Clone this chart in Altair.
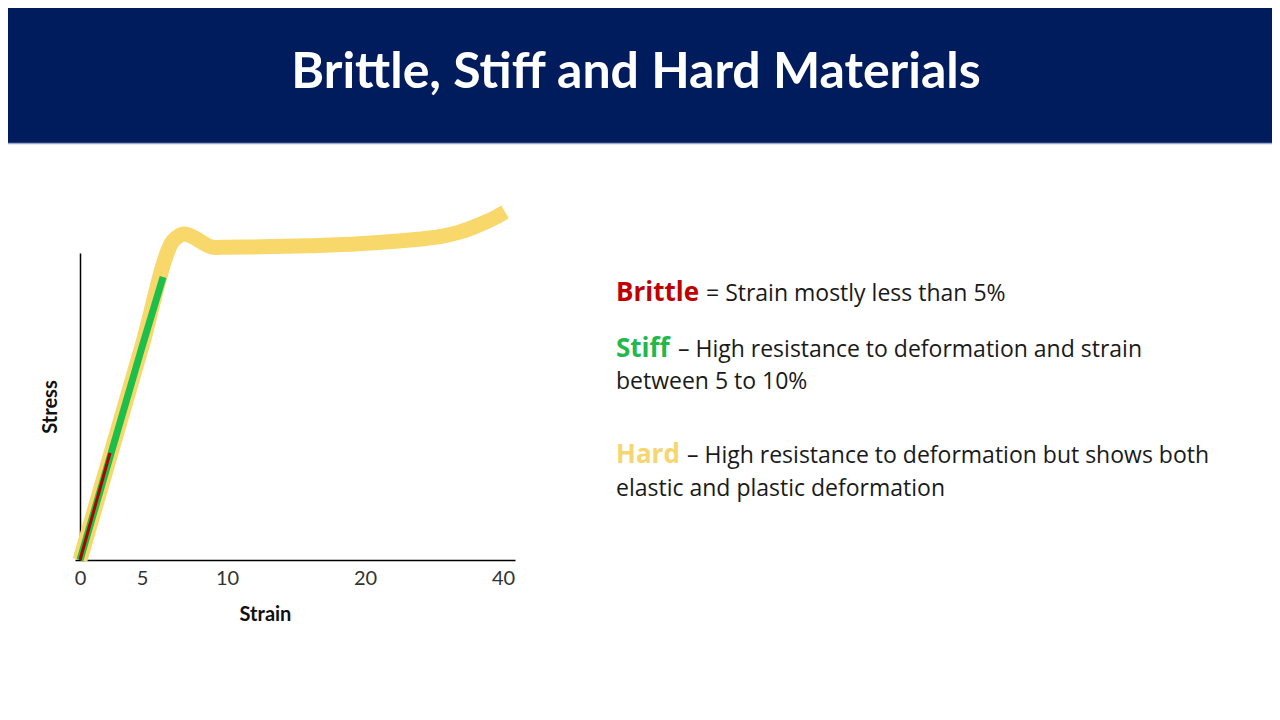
import altair as alt
import pandas as pd

# stress-strain curves (stress in arbitrary units, axis top = 100)
hard_strain = [0, 5, 6.82, 7.12, 7.47, 9.29, 10, 12.4, 16.0, 19.6, 24.4, 29.0, 31.45, 33.77, 36.23, 38.55, 40.29]
hard_stress = [0, 69.7, 103.9, 105.4, 106.2, 101.8, 101.9, 102.0, 102.4, 103.0, 103.8, 104.8, 105.6, 106.9, 108.9, 111.2, 113.4]
stiff_strain = [0, 5, 6.24]
stiff_stress = [0, 69.4, 92.2]
brittle_strain = [0, 2.42]
brittle_stress = [0, 34.9]
strain_ticks = [0, 5, 10, 20, 40]

title = "Brittle, Stiff and Hard Materials"
words = ["Brittle", "Stiff", "Hard"]
word_colors = ["#C00000", "#22B84C", "#F6D670"]
lines = [
    ["= Strain mostly less than 5%"],
    ["– High resistance to deformation and strain", "between 5 to 10%"],
    ["– High resistance to deformation but shows both", "elastic and plastic deformation"],
]

FONT = "Lato"
BODY_FONT = "Open Sans"
OX, OY = 75, 253  # page position of the plot area's top-left corner

# the slide's axis is not evenly spaced, so use a piecewise scale
xscale = alt.Scale(domain=[-0.4, 0, 5, 10, 20, 40, 41.7],
                   range=[0, 5, 67, 152, 290, 428, 440], nice=False, zero=False)
yscale = alt.Scale(domain=[0, 100], nice=False)


def curve(xs, ys, color, width, interp="linear"):
    df = pd.DataFrame({"Strain": xs, "Stress": ys})
    return alt.Chart(df).mark_line(color=color, strokeWidth=width, strokeCap="butt",
                                   strokeJoin="round", interpolate=interp).encode(
        x=alt.X("Strain:Q", scale=xscale),
        y=alt.Y("Stress:Q", scale=yscale),
        order=alt.Order("Strain:Q"),
    )


def label(txt, px, py, size, color, weight="normal", align="left", font=BODY_FONT):
    df = pd.DataFrame({"t": [txt]})
    return alt.Chart(df).mark_text(font=font, fontSize=size, fontWeight=weight, color=color,
                                   align=align, baseline="alphabetic").encode(
        text="t:N", x=alt.value(px - OX), y=alt.value(py - OY))


dummy = pd.DataFrame({"a": [0]})
header = alt.Chart(dummy).mark_rect(color="#001C5C").encode(
    x=alt.value(8 - OX), x2=alt.value(1276 - OX),
    y=alt.value(8 - OY), y2=alt.value(143 - OY))
header_line = alt.Chart(dummy).mark_rule(color="#9AA8CC", strokeWidth=1.5).encode(
    x=alt.value(8 - OX), x2=alt.value(1276 - OX), y=alt.value(143.5 - OY))

axes = alt.Chart(dummy).mark_point(opacity=0).encode(
    x=alt.X("a:Q", scale=xscale, title="Strain",
            axis=alt.Axis(values=strain_ticks, ticks=False, tickSize=0, grid=False,
                          domainColor="black", domainWidth=1.5, labelFont=FONT,
                          labelFontSize=20, labelColor="#333333", labelPadding=8,
                          labelFlush=False, labelOverlap=False, titleFont=FONT,
                          titleFontSize=20, titleFontWeight="bold", titleColor="#111111",
                          titlePadding=16, titleX=190)),
    y=alt.Y("a:Q", scale=yscale, title="Stress",
            axis=alt.Axis(labels=False, ticks=False, tickSize=0, grid=False, offset=-5,
                          domainColor="black", domainWidth=1.5, titleFont=FONT,
                          titleFontSize=20, titleFontWeight="bold", titleColor="#111111",
                          titlePadding=20)),
)

layers = [header, header_line,
          label(title, 636, 88, 50, "white", "bold", "center", FONT),
          axes,
          curve(hard_strain, hard_stress, "#F8D76B", 15, "monotone"),
          curve(stiff_strain, stiff_stress, "#1DBE4A", 7),
          curve(brittle_strain, brittle_stress, "#B00000", 3)]

# text block on the right
word_x_end = [706, 678, 687]
baselines = [[301], [357, 389], [463, 496]]
for i, w in enumerate(words):
    layers.append(label(w, 616, baselines[i][0], 26, word_colors[i], "bold"))
    for j, ln in enumerate(lines[i]):
        px = word_x_end[i] if j == 0 else 616
        layers.append(label(ln, px, baselines[i][j], 23, "#1A1A1A"))

chart = alt.layer(*layers).properties(
    width=440, height=307,
    autosize=alt.AutoSizeParams(type="none"),
    padding={"left": OX - 8, "top": OY - 8, "right": 1264 - (OX - 8) - 440,
             "bottom": 704 - (OY - 8) - 307},
).configure_view(stroke=None)

chart.save("out.html", embed_options={"renderer": "svg", "actions": False})
